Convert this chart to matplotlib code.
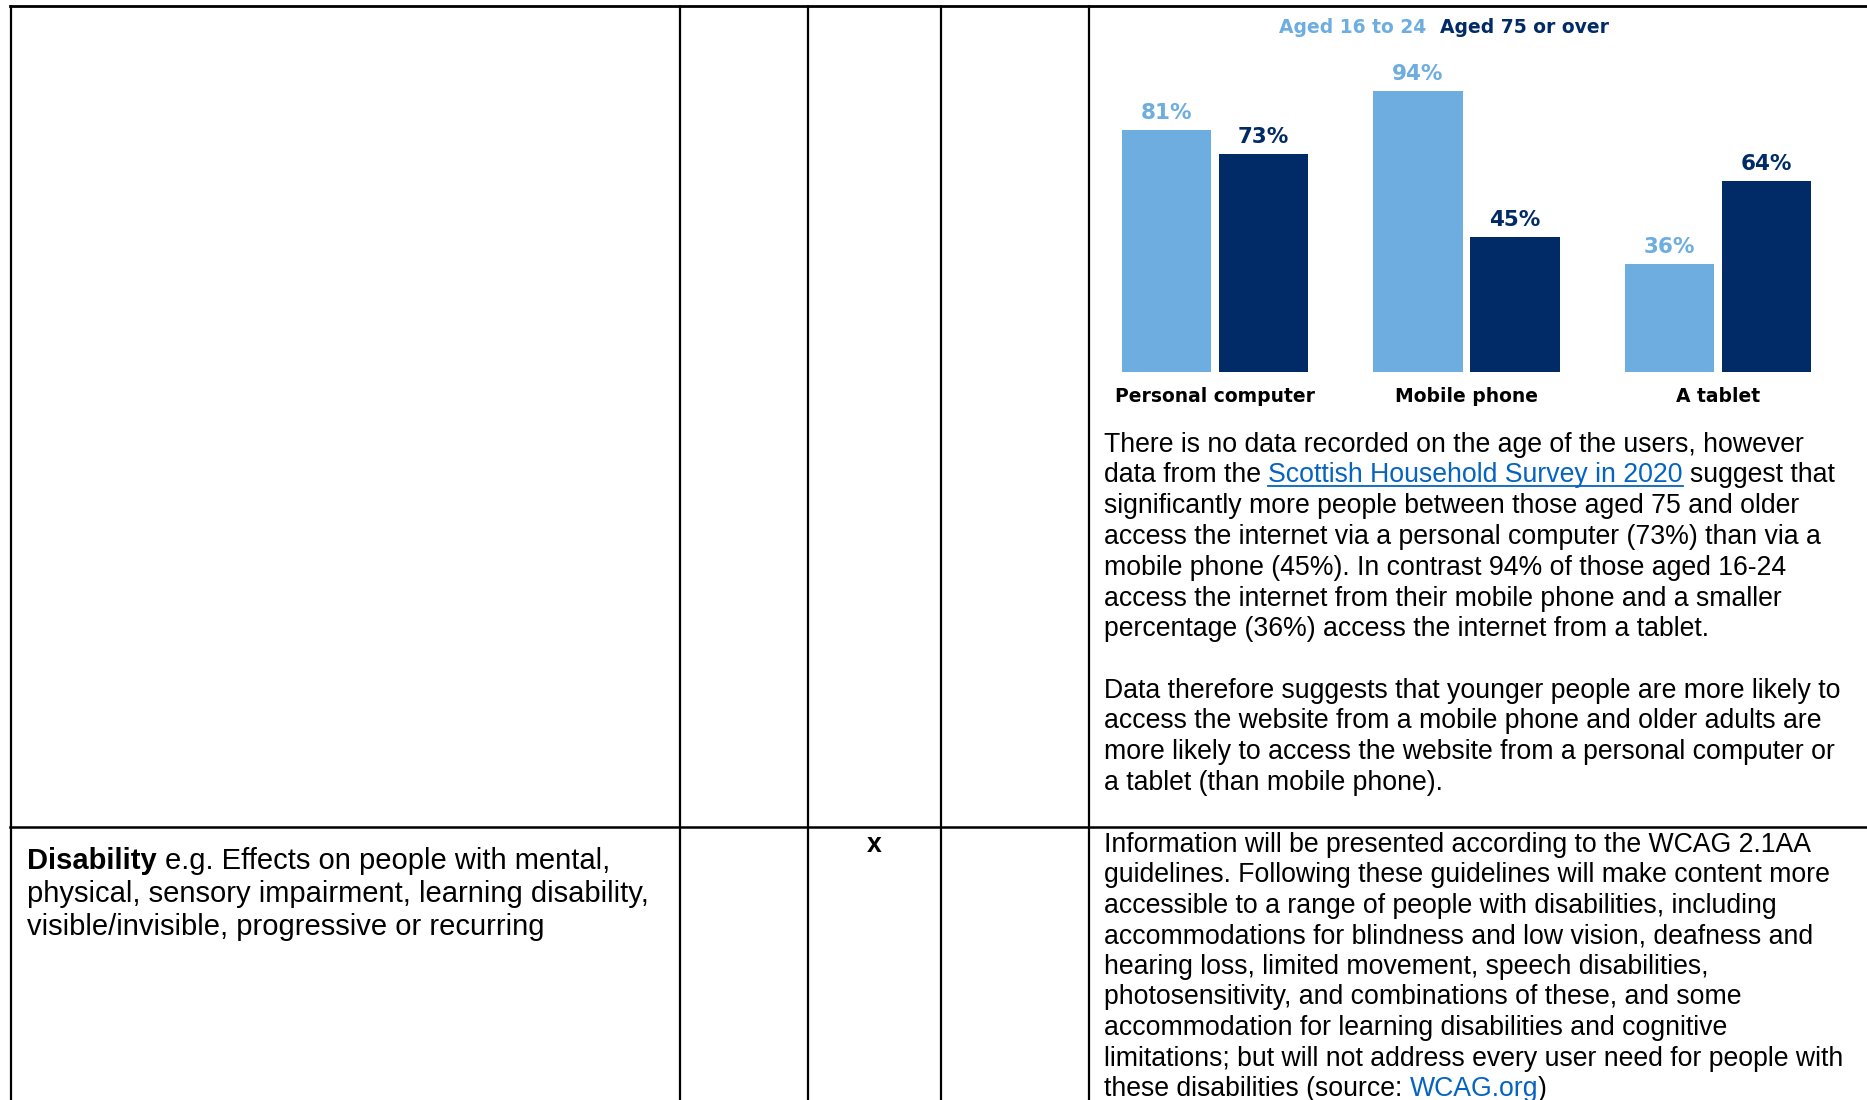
import matplotlib
matplotlib.use("Agg")
import matplotlib.pyplot as plt
import numpy as np

# ── Data ────────────────────────────────────────────────────────────────
categories = ["Personal computer", "Mobile phone", "A tablet"]
series = ["Aged 16 to 24", "Aged 75 or over"]
aged_16_24 = [81, 94, 36]
aged_75_plus = [73, 45, 64]

para1 = [
    "There is no data recorded on the age of the users, however",
    None,  # line with the link, built below
    "significantly more people between those aged 75 and older",
    "access the internet via a personal computer (73%) than via a",
    "mobile phone (45%). In contrast 94% of those aged 16-24",
    "access the internet from their mobile phone and a smaller",
    "percentage (36%) access the internet from a tablet.",
]
para2 = [
    "Data therefore suggests that younger people are more likely to",
    "access the website from a mobile phone and older adults are",
    "more likely to access the website from a personal computer or",
    "a tablet (than mobile phone).",
]
para3 = [
    "Information will be presented according to the WCAG 2.1AA",
    "guidelines. Following these guidelines will make content more",
    "accessible to a range of people with disabilities, including",
    "accommodations for blindness and low vision, deafness and",
    "hearing loss, limited movement, speech disabilities,",
    "photosensitivity, and combinations of these, and some",
    "accommodation for learning disabilities and cognitive",
    "limitations; but will not address every user need for people with",
]
left_lines = [
    "physical, sensory impairment, learning disability,",
    "visible/invisible, progressive or recurring",
]

# ── Colours / fonts ─────────────────────────────────────────────────────
LIGHT = "#6dade0"
DARK = "#002b66"
LINK = "#0563c1"
DOC_FONT = "Liberation Sans"
CHART_FONT = "DejaVu Sans"
FS = 19.2       # body text
FS_LEFT = 21.0  # left cell text

W, H = 1867, 1100
fig = plt.figure(figsize=(W / 100, H / 100), dpi=100, facecolor="white")

# page axes in pixel coordinates (y down)
doc = fig.add_axes([0, 0, 1, 1])
doc.set_xlim(0, W)
doc.set_ylim(H, 0)
doc.axis("off")

# ── Table grid ──────────────────────────────────────────────────────────
for x in [11, 680, 808, 941, 1089]:
    doc.plot([x, x], [5, H + 5], color="black", lw=1.6, solid_capstyle="butt")
doc.plot([10, W], [5.5, 5.5], color="black", lw=2.0)
doc.plot([10, W], [826.5, 826.5], color="black", lw=1.8)

# ── Body text ───────────────────────────────────────────────────────────
X0 = 1104
sp = 0.278 * FS  # width of a space in points (Arial metrics)

def chain(prev, txt, gap=0.0, **kw):
    return doc.annotate(txt, xy=(1, 0), xycoords=prev, xytext=(gap, 0),
                        textcoords="offset points", va="bottom", ha="left",
                        family=DOC_FONT, fontsize=kw.pop("fontsize", FS), **kw)

y = 451.5
for i, line in enumerate(para1):
    by = y + i * 30.8
    if line is None:
        t1 = doc.text(X0, by, "data from the", family=DOC_FONT, fontsize=FS, va="baseline")
        link1 = chain(t1, "Scottish Household Survey in 2020", gap=sp, color=LINK)
        chain(link1, "suggest that", gap=sp)
        link1_y = by
    else:
        doc.text(X0, by, line, family=DOC_FONT, fontsize=FS, va="baseline")

for i, line in enumerate(para2):
    doc.text(X0, 697.7 + i * 30.8, line, family=DOC_FONT, fontsize=FS, va="baseline")

for i, line in enumerate(para3):
    doc.text(X0, 851.5 + i * 30.6, line, family=DOC_FONT, fontsize=FS, va="baseline")
t = doc.text(X0, 851.5 + 8 * 30.6, "these disabilities (source:", family=DOC_FONT,
             fontsize=FS, va="baseline")
link2 = chain(t, "WCAG.org", gap=sp, color=LINK)
chain(link2, ")")

# left cell
tb = doc.text(27, 868.6, "Disability", family=DOC_FONT, fontsize=FS_LEFT,
              fontweight="bold", va="baseline")
chain(tb, "e.g. Effects on people with mental,", gap=0.278 * FS_LEFT, fontsize=FS_LEFT)
for i, line in enumerate(left_lines):
    doc.text(27, 868.6 + (i + 1) * 33.3, line, family=DOC_FONT, fontsize=FS_LEFT,
             va="baseline")

doc.text(874.5, 851.5, "x", family=DOC_FONT, fontsize=FS, fontweight="bold",
         ha="center", va="baseline")

# ── Bar chart ───────────────────────────────────────────────────────────
ax = fig.add_axes([1089.25 / W, (H - 372) / H, 754.5 / W, 299 / H])
ax.patch.set_alpha(0)
x = np.arange(len(categories))
bw, off = 0.356, 0.193
b1 = ax.bar(x - off, aged_16_24, bw, color=LIGHT)
b2 = ax.bar(x + off, aged_75_plus, bw, color=DARK)
for bars, vals, col in [(b1, aged_16_24, LIGHT), (b2, aged_75_plus, DARK)]:
    for r, v in zip(bars, vals):
        ax.annotate(f"{v}%", xy=(r.get_x() + r.get_width() / 2, v),
                    xytext=(0, 8), textcoords="offset points", ha="center",
                    va="baseline", color=col, fontsize=15.5, fontweight="bold",
                    family=CHART_FONT)
ax.set_xlim(-0.5, 2.5)
ax.set_ylim(0, 100)
ax.set_xticks(x)
ax.set_xticklabels(categories, fontsize=13.5, fontweight="bold", family=CHART_FONT)
ax.tick_params(axis="x", length=0, pad=11)
ax.set_yticks([])
for s in ax.spines.values():
    s.set_visible(False)

# legend as coloured series names
doc.text(1426, 33, series[0], color=LIGHT, fontsize=13.5, fontweight="bold",
         family=CHART_FONT, ha="right", va="baseline")
doc.text(1440, 33, series[1], color=DARK, fontsize=13.5, fontweight="bold",
         family=CHART_FONT, ha="left", va="baseline")

# underline for the hyperlink
fig.canvas.draw()
bb = link1.get_window_extent()
inv = doc.transData.inverted()
(ux0, _), (ux1, _) = inv.transform([[bb.x0, 0], [bb.x1, 0]])
doc.plot([ux0, ux1], [link1_y + 3.5, link1_y + 3.5], color=LINK, lw=1.3)

fig.savefig("out.png", dpi=100, facecolor="white")
